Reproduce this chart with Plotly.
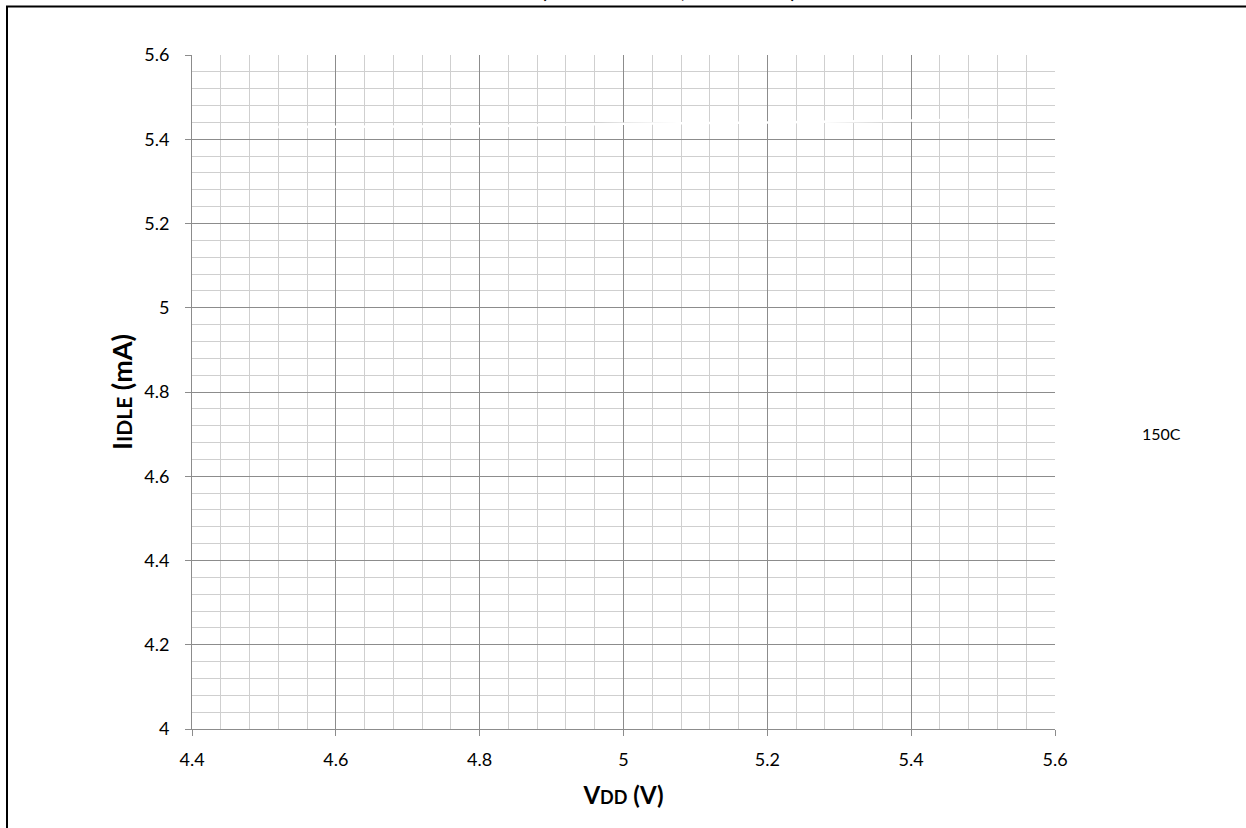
import plotly.graph_objects as go

# data
vdd = [4.52, 4.8, 5.0, 5.2, 5.48]
idle_150c = [5.429, 5.431, 5.437, 5.440, 5.446]
series_name = "150C"
x_range = [4.4, 5.6]
y_range = [4.0, 5.6]
title_text = "<b>I<span style='font-size:15px'>IDLE</span> vs. V<span style='font-size:15px'>DD</span> (F<span style='font-size:15px'>OSC</span> = 16 MHz, HFINTOSC)</b>"

W, H = 1246, 828
L, T = 192, 55
pw, ph = 863, 674
R = W - L - pw
B = H - T - ph

FONT = "Lato, Open Sans, sans-serif"

fig = go.Figure()
fig.add_trace(go.Scatter(x=vdd, y=idle_150c, mode="lines", name=series_name,
                         line=dict(color="white", width=2.5)))

fig.update_layout(
    width=W, height=H,
    margin=dict(l=L, r=R, t=T, b=B, autoexpand=False),
    paper_bgcolor="white", plot_bgcolor="white",
    font=dict(family=FONT, size=16, color="black"),
    showlegend=True,
    legend=dict(x=(1102 - L) / pw, y=(729 - 434) / ph, xanchor="left", yanchor="middle",
                font=dict(size=16, family=FONT), bgcolor="rgba(0,0,0,0)"),
)

fig.update_xaxes(
    range=x_range, dtick=0.2, tick0=4.4,
    showgrid=True, gridcolor="#8c8c8c", gridwidth=1,
    minor=dict(dtick=0.04, showgrid=True, gridcolor="#cfcfcf", gridwidth=1),
    showline=True, linecolor="#8c8c8c", linewidth=1,
    ticks="outside", ticklen=6, tickcolor="#8c8c8c",
    zeroline=False, ticklabelstandoff=8,
    tickfont=dict(size=18, family=FONT),
    title=dict(text="<b>V<span style='font-size:18px'>DD</span> (V)</b>", font=dict(size=24, family=FONT), standoff=18),
)
fig.update_yaxes(
    range=y_range, dtick=0.2, tick0=4.0,
    showgrid=True, gridcolor="#8c8c8c", gridwidth=1,
    minor=dict(dtick=0.04, showgrid=True, gridcolor="#cfcfcf", gridwidth=1),
    showline=True, linecolor="#8c8c8c", linewidth=1,
    ticks="outside", ticklen=6, tickcolor="#8c8c8c",
    zeroline=False, ticklabelstandoff=12,
    tickfont=dict(size=18, family=FONT),
    title=dict(text="<b>I<span style='font-size:21px'>IDLE</span> (mA)</b>", font=dict(size=27, family=FONT), standoff=3),
)

# title, almost entirely above the page (only descenders visible, as in the reference)
fig.add_annotation(text=title_text, xref="paper", yref="paper",
                   x=(612 - L) / pw, y=1 + (T - 4) / ph, xanchor="center", yanchor="bottom",
                   showarrow=False, font=dict(size=20, family=FONT, color="black"))

# chart border
fig.add_shape(type="rect", xref="paper", yref="paper",
              x0=(7 - L) / pw, x1=(W + 10 - L) / pw,
              y0=-(B + 10) / ph, y1=1 + (T - 6.5) / ph,
              line=dict(color="black", width=2), fillcolor="rgba(0,0,0,0)", layer="above")

fig.write_html("out.html", config={"displayModeBar": False},
               post_script="document.body.style.margin='0';document.body.style.overflow='hidden';")
